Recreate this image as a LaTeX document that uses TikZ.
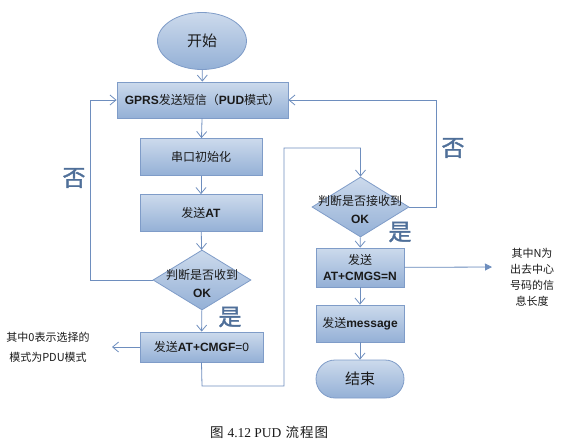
\documentclass[tikz,border=0pt]{standalone}
\usepackage{fontspec}
\setmainfont{Liberation Sans}
\newfontfamily\cjk{Noto Sans CJK SC}
\newfontfamily\cjkb[FakeBold=1.5]{Noto Sans CJK SC}
\newfontfamily\serif{Liberation Serif}
\usetikzlibrary{shapes.geometric,arrows.meta}
\definecolor{edge}{HTML}{7F9CC8}
\definecolor{linec}{HTML}{6E8EBE}
\definecolor{ftop}{HTML}{CCDAEC}
\definecolor{fbot}{HTML}{94B0D6}
\definecolor{lab}{HTML}{4F6F99}
\definecolor{txt}{HTML}{1A1A1A}
\begin{document}
\begin{tikzpicture}[x=1pt,y=-1pt,
  box/.style={draw=edge,line width=0.8pt,top color=ftop,bottom color=fbot,rectangle,inner sep=0pt,text=txt,font=\fontsize{12}{14}\selectfont,align=center},
  dia/.style={draw=edge,line width=0.8pt,top color=ftop,bottom color=fbot,diamond,inner sep=0pt,minimum width=98pt,minimum height=60pt},
  term/.style={draw=edge,line width=0.8pt,top color=ftop,bottom color=fbot,inner sep=0pt,text=txt,font=\fontsize{15}{17}\selectfont\cjk},
  arr/.style={draw=linec,line width=0.8pt,-{Straight Barb[length=6pt,width=10pt]}},
  ln/.style={draw=linec,line width=0.8pt},
  yn/.style={text=lab,font=\fontsize{23}{25}\selectfont\cjkb,inner sep=0pt},
  note/.style={text=txt,font=\fontsize{11}{16}\selectfont\cjk,align=center,inner sep=0pt}]
\useasboundingbox (0,0) rectangle (567,445);
% nodes
\node[term,ellipse,minimum width=89pt,minimum height=57pt] (start) at (202,41) {开始};
\node[box,minimum width=171pt,minimum height=36pt] (gprs) at (202.5,100) {\textbf{GPRS}{\cjk 发送短信（}\textbf{PUD}{\cjk 模式）}};
\node[box,minimum width=122pt,minimum height=37pt] (init) at (201,157) {\cjk 串口初始化};
\node[box,minimum width=122pt,minimum height=37pt] (at) at (201,213) {{\cjk 发送}\textbf{AT}};
\node[dia] (d1) at (202,280) {};
\node[text=txt,font=\fontsize{12}{18}\selectfont,align=center,inner sep=0pt] at (202,283) {{\cjk 判断是否收到}\\\textbf{OK}};
\node[box,minimum width=123pt,minimum height=30pt] (cmgf) at (201.5,347) {{\cjk 发送}\textbf{AT+CMGF}=0};
\node[dia,minimum width=97pt] (d2) at (360.5,207) {};
\node[text=txt,font=\fontsize{12}{18}\selectfont,align=center,inner sep=0pt] at (360,210) {{\cjk 判断是否接收到}\\\textbf{OK}};
\node[box,minimum width=88pt,minimum height=39pt,font=\fontsize{12}{16}\selectfont] (cmgs) at (360,267.5) {{\cjk 发送}\\\textbf{AT+CMGS=N}};
\node[box,minimum width=88pt,minimum height=37pt] (msg) at (360,323.5) {{\cjk 发送}\textbf{message}};
\node[term,rounded corners=19pt,minimum width=88pt,minimum height=38pt] (end) at (360,379) {结束};
% labels
\node[yn] (no1) at (74,178) {否};
\node[yn] (no2) at (453,148) {否};
\node[yn] (yes1) at (230,317) {是};
\node[yn] (yes2) at (400,232) {是};
\node[note,font=\fontsize{11}{20}\selectfont\cjk] (n0) at (48,347) {其中0表示选择的\\模式为PDU模式};
\node[note] (nN) at (532,277) {其中N为\\出去中心\\号码的信\\息长度};
\node[text=txt,font=\fontsize{13.5}{15}\selectfont,inner sep=0pt] (cap) at (269,432) {{\cjk 图}\hspace{4pt}{\serif 4.12 PUD}\hspace{4pt}{\cjk 流\hspace{1pt}程\hspace{1pt}图}};
% coordinates
\coordinate (c0) at (112,347);
\coordinate (cN) at (492,267);
\coordinate (b1) at (202,386);
\coordinate (b2) at (284,386);
\coordinate (b3) at (284,148);
\coordinate (r1) at (436,207);
% connectors
\draw[arr] (start) -- (gprs);
\draw[arr] (gprs) -- (init);
\draw[arr] (init) -- (at);
\draw[arr] (at) -- (d1);
\draw[arr] (d1.west) -- ++(-62,0) |- (gprs.west);
\draw[arr] (d1) -- (cmgf);
\draw[arr] (cmgf) -- (c0);
\draw[arr] (cmgf.south) -- (b1) -- (b2) -- (b3) -| (d2.north);
\draw[arr] (d2.east) -- (r1) |- (gprs.east);
\draw[arr] (d2) -- (cmgs);
\draw[ln,-{Triangle[length=7pt,width=7pt]},fill=linec] (cmgs) -- (cN);
\draw[arr] (cmgs) -- (msg);
\draw[arr] (msg) -- (end);
\end{tikzpicture}
\end{document}
